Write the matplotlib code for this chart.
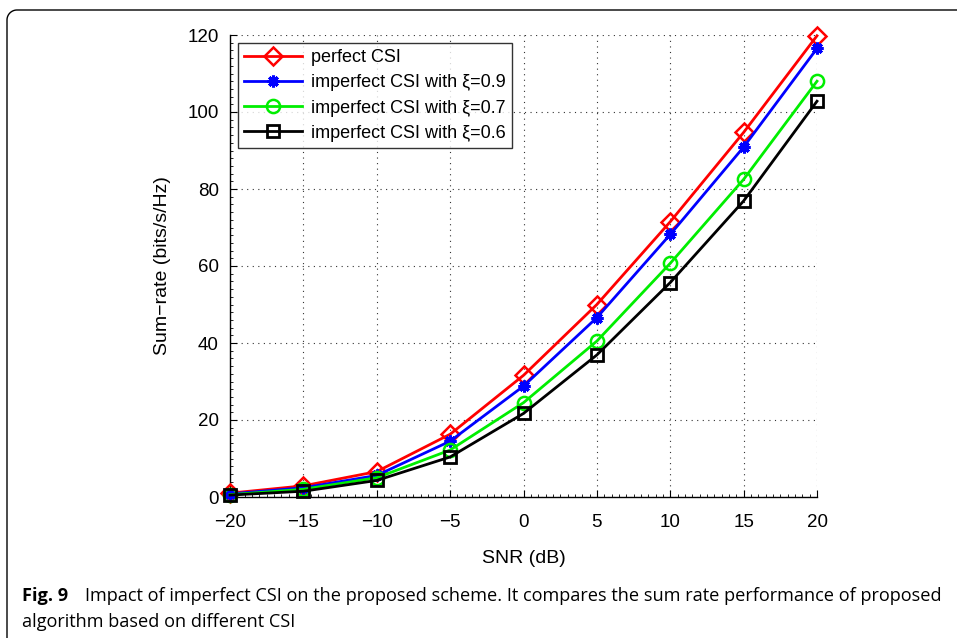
import matplotlib
matplotlib.use("Agg")
import matplotlib.pyplot as plt
from matplotlib.lines import Line2D
from matplotlib.ticker import MultipleLocator
import numpy as np

snr = [-20, -15, -10, -5, 0, 5, 10, 15, 20]
perfect = [1.0, 2.9, 6.6, 16.3, 31.6, 50.0, 71.5, 94.7, 119.8]
xi09 = [0.8, 2.4, 5.6, 14.5, 28.8, 46.6, 68.2, 90.9, 116.5]
xi07 = [0.6, 2.0, 5.0, 12.2, 24.5, 40.5, 60.7, 82.5, 108.0]
xi06 = [0.5, 1.5, 4.3, 10.4, 21.7, 36.9, 55.7, 76.9, 102.8]
labels = ["perfect CSI", "imperfect CSI with ξ=0.9",
          "imperfect CSI with ξ=0.7", "imperfect CSI with ξ=0.6"]
xticks = [-20, -15, -10, -5, 0, 5, 10, 15, 20]
yticks = [0, 20, 40, 60, 80, 100, 120]

plt.rcParams['font.family'] = ['Liberation Sans', 'DejaVu Sans']

fig = plt.figure(figsize=(9.57, 6.38), dpi=100)
ax = fig.add_axes([230/957, 1-497/638, (817-230)/957, (497-35)/638])

styles = [
    dict(color='#ff0000', marker='D', markersize=9, mfc='none', mew=1.8),
    dict(color='#0000ff', marker=(8, 2, 0), markersize=8.5, mew=2.2),
    dict(color='#00ee00', marker='o', markersize=9.5, mfc='none', mew=1.8),
    dict(color='#000000', marker='s', markersize=8, mfc='none', mew=2.0),
]
for ys, lab, st in zip([perfect, xi09, xi07, xi06], labels, styles):
    ax.plot(snr, ys, lw=2.0, label=lab, clip_on=False, zorder=3, **st)

ax.set_xlim(-20, 20)
ax.set_ylim(0, 120)
ax.set_xticks(xticks)
ax.set_yticks(yticks)
ax.set_xticklabels([str(t).replace('-', '−') for t in xticks])
ax.xaxis.set_minor_locator(MultipleLocator(0.5))
ax.yaxis.set_minor_locator(MultipleLocator(2))
ax.tick_params(which='major', direction='in', length=5, width=0.8, labelsize=13.5)
ax.tick_params(axis='x', which='major', pad=12)
ax.tick_params(axis='y', which='major', pad=8)
ax.tick_params(which='minor', direction='in', length=2.5, width=0.6)
ax.grid(True, which='major', linestyle=(0, (1, 4)), color='#333333', linewidth=0.8)
for s in ['top', 'right']:
    ax.spines[s].set_visible(False)
ax.spines['left'].set_linewidth(1.0)
ax.spines['bottom'].set_linewidth(1.0)

ax.set_xlabel("SNR (dB)", fontsize=14, labelpad=14)
ax.set_ylabel("Sum−rate (bits/s/Hz)", fontsize=14, labelpad=12)

leg = ax.legend(loc='upper left', bbox_to_anchor=(8/587, 1-8/462), fontsize=13,
                frameon=True, fancybox=False, edgecolor='black', borderpad=0.35,
                labelspacing=0.45, handlelength=3.2, handletextpad=0.5,
                borderaxespad=0)
leg.get_frame().set_linewidth(1.0)

# border frame (top-left rounded corner)
W, H = 957, 638
r = 10
x0, y0 = 7, 10
theta = np.linspace(np.pi, np.pi/2, 20)
arc_x = x0 + r + r*np.cos(theta)
arc_y = y0 + r - r*np.sin(theta)
px = np.concatenate([[x0], arc_x, [W]])
py = np.concatenate([[H], arc_y, [y0]])
fig.add_artist(Line2D(px/W, 1-py/H, transform=fig.transFigure, color='black', lw=1.0))

cap_font = ['Open Sans', 'DejaVu Sans']
fs = 12.0
t1 = fig.text(22/957, 1-596/638, "Fig. 9", fontsize=fs, fontweight='bold', family=cap_font,
              va='center', ha='left')
t2 = fig.text(85/957, 1-596/638,
              "Impact of imperfect CSI on the proposed scheme. It compares the sum rate performance of proposed",
              fontsize=fs, family=cap_font, va='center', ha='left')
t3 = fig.text(22/957, 1-622/638, "algorithm based on different CSI", fontsize=fs, family=cap_font,
              va='center', ha='left')
# fit caption width to the reference line length
fig.canvas.draw()
w = t2.get_window_extent().width
nfs = fs * (940 - 85) / w
for t in (t1, t2, t3):
    t.set_fontsize(nfs)

fig.savefig("out.png", dpi=100)
